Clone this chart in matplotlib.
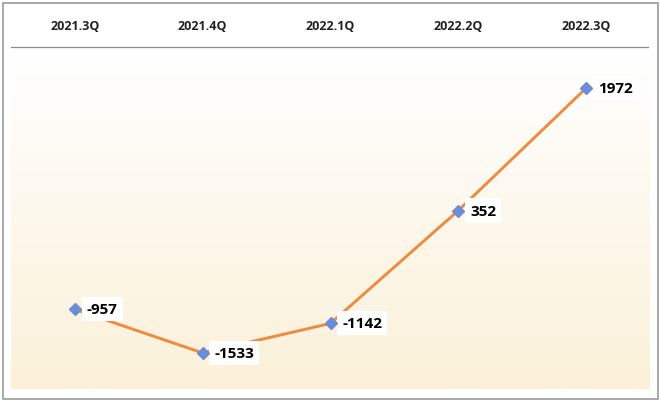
import numpy as np
import matplotlib
matplotlib.use('Agg')
import matplotlib.pyplot as plt
from matplotlib.colors import LinearSegmentedColormap
from matplotlib.patches import Rectangle
from matplotlib.lines import Line2D

quarters = ['2021.3Q', '2021.4Q', '2022.1Q', '2022.2Q', '2022.3Q']
values = [-957, -1533, -1142, 352, 1972]

plt.rcParams['font.family'] = ['Open Sans', 'DejaVu Sans']

fig = plt.figure(figsize=(6.6, 4.02), dpi=100)
ax = fig.add_axes([11/660, 1-390/402, 639/660, 340/402])

# background gradient white (top) -> cream (bottom)
cmap = LinearSegmentedColormap.from_list('bg', ['#FFFFFF', '#FBF1D9'])
grad = np.linspace(0, 1, 256).reshape(-1, 1)
ax.imshow(grad, cmap=cmap, aspect='auto', extent=(0, 1, 0, 1),
          origin='upper', transform=ax.transAxes, zorder=0)

x = np.arange(len(quarters))
ax.plot(x, values, color='#EF8A3E', lw=2.1, zorder=2)
ax.plot(x, values, ls='none', marker='D', ms=6, color='#6C8CD5', zorder=5)

for xi, v in zip(x, values):
    ax.annotate(str(v), (xi, v), xytext=(8.5, 0), textcoords='offset points',
                ha='left', va='center', fontsize=11, fontweight='bold',
                color='black', zorder=4,
                bbox=dict(boxstyle='square,pad=0.33', fc='white', ec='none'))

# header labels above the plot area
for xi, q in zip(x, quarters):
    ax.text(xi, (402-27-12)/340, q, transform=ax.get_xaxis_transform(),
            ha='center', va='center', fontsize=9, fontweight='bold',
            color='#222222')

ax.set_xlim(-0.5, 4.5)
ax.set_ylim(-2010, 2490)
ax.set_xticks([])
ax.set_yticks([])
for s in ax.spines.values():
    s.set_visible(False)

# header separator line
fig.add_artist(Line2D([11/660, 648/660], [1-48/402, 1-48/402],
                      color='#8C8C8C', lw=0.9))
# outer frame
fig.add_artist(Rectangle((2.5/660, 2.5/402), 655/660, 396/402,
                         fill=False, ec='#9A9A9A', lw=1.2))

fig.savefig('out.png', dpi=100)
